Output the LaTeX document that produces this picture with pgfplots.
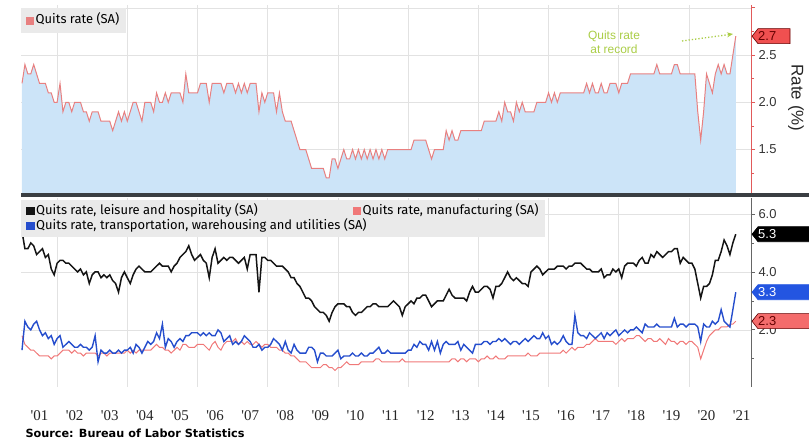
\documentclass[border=0pt]{standalone}
\usepackage{pgfplots}
\pgfplotsset{compat=1.18}
\usepackage{pgfplotstable}
\usepackage{fontspec}
\setmainfont{Liberation Sans}
\newfontfamily\yrfont{Liberation Serif}
\newfontfamily\legfont{Fira Sans}
\newfontfamily\srcfont{DejaVu Sans}
\usetikzlibrary{arrows.meta}

\definecolor{areablue}{RGB}{204,228,248}
\definecolor{quitline}{RGB}{232,128,128}
\definecolor{lhblack}{RGB}{20,20,20}
\definecolor{twblue}{RGB}{38,78,205}
\definecolor{mfred}{RGB}{240,120,120}
\definecolor{gridgray}{RGB}{226,226,226}
\definecolor{leggray}{RGB}{234,234,234}
\definecolor{sepgray}{RGB}{58,62,66}
\definecolor{axred}{RGB}{225,90,90}
\definecolor{notegreen}{RGB}{170,205,70}
\definecolor{tagred}{RGB}{240,80,80}
\definecolor{tagsalmon}{RGB}{244,108,108}
\definecolor{tagblue}{RGB}{35,85,225}
\definecolor{darkred}{RGB}{100,0,0}

% month index n: 0 = Dec 2000 ... 244 = Apr 2021
% q = total, l = leisure/hospitality, t = transport/warehousing/utilities, f = manufacturing
\pgfplotstableread{
n q l t f
0 2.2 5.4 1.3 1.8
1 2.4 4.8 2.3 1.5
2 2.3 4.8 2.1 1.4
3 2.3 5.0 2.0 1.3
4 2.4 4.9 2.2 1.3
5 2.3 4.6 2.3 1.2
6 2.2 4.7 2.0 1.1
7 2.2 4.8 1.8 1.1
8 2.2 4.5 1.9 1.1
9 2.1 4.6 1.7 1.1
10 2.1 4.1 1.8 1.0
11 2.0 3.9 1.5 1.1
12 2.0 4.3 1.7 1.1
13 2.2 4.4 1.8 1.2
14 1.9 4.4 1.4 1.3
15 2.0 4.3 1.5 1.3
16 2.0 4.3 1.6 1.3
17 1.9 4.2 1.5 1.2
18 2.0 4.1 1.4 1.3
19 2.0 4.0 1.4 1.2
20 2.0 4.1 1.5 1.2
21 1.9 3.9 1.4 1.1
22 1.9 4.0 1.4 1.2
23 1.8 3.6 1.3 1.2
24 1.9 3.9 1.4 1.2
25 1.9 4.0 1.8 1.2
26 1.9 4.0 0.9 1.1
27 1.8 3.8 1.3 1.2
28 1.8 3.9 1.2 1.2
29 1.8 3.8 1.2 1.1
30 1.8 3.9 1.3 1.2
31 1.7 3.7 1.2 1.2
32 1.8 3.6 1.2 1.2
33 1.9 3.3 1.3 1.2
34 1.8 3.8 1.2 1.2
35 1.9 4.0 1.3 1.2
36 1.8 3.8 1.3 1.3
37 1.9 3.6 1.4 1.2
38 2.0 3.9 1.2 1.3
39 2.0 4.1 1.5 1.2
40 1.9 4.2 1.4 1.3
41 1.8 4.1 1.2 1.3
42 2.0 4.0 1.4 1.3
43 2.0 4.0 1.6 1.3
44 2.0 4.0 1.5 1.3
45 1.9 4.1 1.6 1.4
46 2.1 4.2 1.9 1.5
47 2.0 4.3 1.7 1.4
48 2.0 4.2 2.2 1.4
49 2.1 4.2 1.4 1.3
50 2.0 4.2 1.7 1.3
51 2.1 4.0 1.6 1.2
52 2.1 4.2 1.4 1.3
53 2.1 4.3 1.6 1.4
54 2.1 4.5 1.7 1.3
55 2.0 4.6 1.6 1.5
56 2.3 4.7 1.8 1.5
57 2.1 4.9 1.8 1.4
58 2.1 4.6 1.9 1.4
59 2.1 4.4 1.9 1.4
60 2.1 4.5 1.9 1.5
61 2.2 4.6 1.8 1.5
62 2.2 4.4 1.9 1.5
63 2.2 4.3 1.8 1.4
64 2.0 3.8 1.9 1.3
65 2.2 4.5 1.8 1.5
66 2.2 4.8 1.8 1.6
67 2.2 4.3 2.0 1.4
68 2.2 4.4 1.9 1.3
69 2.1 4.5 1.6 1.5
70 2.2 4.4 1.7 1.6
71 2.2 4.5 1.8 1.6
72 2.2 4.5 1.5 1.6
73 2.1 4.4 1.6 1.7
74 2.2 4.3 1.5 1.5
75 2.1 4.4 1.6 1.6
76 2.2 4.5 1.8 1.5
77 2.1 4.1 1.7 1.6
78 2.2 4.6 1.6 1.5
79 2.2 4.6 1.4 1.5
80 2.2 4.6 1.4 1.6
81 1.9 3.3 1.5 1.5
82 2.1 4.5 1.3 1.4
83 2.0 4.5 1.4 1.5
84 2.1 4.4 1.4 1.5
85 2.1 4.4 1.5 1.4
86 2.1 4.3 1.7 1.4
87 1.9 4.2 1.6 1.4
88 2.1 4.2 1.5 1.3
89 1.9 4.2 1.3 1.3
90 1.8 4.1 1.6 1.2
91 1.8 4.0 1.3 1.2
92 1.8 3.8 1.2 1.1
93 1.7 3.8 1.5 1.1
94 1.6 3.6 1.3 1.0
95 1.5 3.5 1.2 0.9
96 1.5 3.3 1.2 0.9
97 1.5 3.1 1.2 0.9
98 1.4 3.1 1.4 0.8
99 1.3 3.0 1.4 0.7
100 1.3 2.8 1.3 0.7
101 1.3 2.7 0.9 0.7
102 1.3 2.6 1.2 0.7
103 1.3 2.6 1.2 0.8
104 1.2 2.5 1.1 0.8
105 1.2 2.3 1.1 0.7
106 1.4 2.6 1.1 0.7
107 1.4 2.8 1.2 0.6
108 1.3 2.9 1.3 0.7
109 1.4 2.9 1.0 0.7
110 1.5 2.9 1.1 0.8
111 1.4 2.8 1.1 0.9
112 1.4 2.8 1.1 0.8
113 1.5 2.6 1.2 0.8
114 1.4 2.5 1.1 0.8
115 1.5 2.6 1.1 0.8
116 1.4 2.6 1.2 0.9
117 1.5 2.7 1.1 0.9
118 1.4 2.8 1.1 0.9
119 1.5 2.8 1.2 0.9
120 1.4 2.9 1.2 0.9
121 1.5 2.9 1.3 1.0
122 1.4 2.8 1.4 1.0
123 1.5 2.8 1.2 0.9
124 1.4 2.8 1.2 0.9
125 1.5 2.8 1.3 0.9
126 1.5 2.9 1.2 0.9
127 1.5 3.0 1.2 0.9
128 1.5 2.9 1.2 0.9
129 1.5 2.8 1.2 0.9
130 1.5 2.5 1.2 1.0
131 1.5 2.8 1.2 0.9
132 1.5 2.9 1.3 0.9
133 1.5 3.0 1.3 0.9
134 1.6 2.9 1.5 0.9
135 1.6 3.1 1.4 0.9
136 1.6 3.1 1.6 0.9
137 1.6 3.2 1.5 0.9
138 1.6 3.2 1.5 0.9
139 1.5 3.0 1.3 0.9
140 1.4 2.8 1.6 0.9
141 1.5 2.9 1.3 0.9
142 1.5 3.0 1.6 0.9
143 1.5 3.0 1.2 0.9
144 1.5 3.0 1.5 0.9
145 1.7 3.2 1.6 0.9
146 1.6 3.4 1.5 0.9
147 1.7 3.2 1.5 1.0
148 1.6 3.1 1.5 1.0
149 1.6 3.1 1.6 0.9
150 1.7 3.1 1.3 1.0
151 1.7 3.1 1.5 1.0
152 1.7 3.0 1.4 0.9
153 1.7 3.3 1.3 1.0
154 1.7 3.5 1.2 1.0
155 1.7 3.3 1.5 1.0
156 1.7 3.3 1.5 0.9
157 1.7 3.4 1.5 1.0
158 1.8 3.5 1.6 1.0
159 1.8 3.5 1.6 1.1
160 1.8 3.4 1.5 1.0
161 1.8 3.1 1.6 1.0
162 1.8 3.5 1.6 1.1
163 1.9 3.5 1.7 1.0
164 1.8 3.6 1.6 1.0
165 2.0 3.8 1.7 1.0
166 1.9 4.0 1.6 1.1
167 1.9 3.8 1.5 1.1
168 1.8 3.7 1.6 1.1
169 2.0 3.8 1.6 1.1
170 1.9 3.7 1.5 1.1
171 2.0 3.6 1.6 1.1
172 1.9 3.6 1.7 1.1
173 1.9 3.5 1.6 1.2
174 1.9 4.0 1.7 1.1
175 1.9 4.1 1.8 1.1
176 2.0 4.2 1.7 1.1
177 2.0 4.1 1.7 1.2
178 2.0 3.9 1.9 1.2
179 2.0 4.0 1.7 1.2
180 2.1 4.1 1.8 1.2
181 2.0 4.1 1.5 1.2
182 2.1 4.1 1.6 1.2
183 2.0 4.2 1.5 1.2
184 2.1 4.2 1.6 1.2
185 2.1 4.2 1.8 1.3
186 2.1 4.1 1.6 1.2
187 2.1 4.2 1.5 1.3
188 2.1 4.2 1.5 1.4
189 2.1 4.3 2.5 1.3
190 2.1 4.3 1.9 1.4
191 2.1 4.3 1.8 1.4
192 2.1 4.2 1.8 1.4
193 2.2 4.1 1.7 1.5
194 2.1 4.1 1.9 1.5
195 2.2 4.0 1.8 1.6
196 2.1 4.0 1.7 1.7
197 2.1 4.0 1.8 1.6
198 2.2 4.1 1.9 1.6
199 2.1 3.8 1.7 1.6
200 2.1 3.9 1.9 1.6
201 2.2 3.9 1.8 1.6
202 2.2 4.1 1.9 1.6
203 2.2 4.0 2.0 1.5
204 2.1 4.1 1.8 1.6
205 2.2 3.8 1.9 1.7
206 2.2 4.2 2.0 1.6
207 2.2 4.3 1.9 1.7
208 2.3 4.3 2.0 1.7
209 2.3 4.3 2.0 1.7
210 2.3 4.2 2.1 1.8
211 2.3 4.4 2.0 1.8
212 2.3 4.5 1.9 1.7
213 2.3 4.3 2.2 1.6
214 2.3 4.3 2.1 1.7
215 2.3 4.6 2.1 1.7
216 2.3 4.5 2.1 1.6
217 2.4 4.7 2.2 1.6
218 2.3 4.6 2.1 1.7
219 2.3 4.5 2.1 1.6
220 2.3 4.6 2.1 1.5
221 2.3 4.7 2.1 1.7
222 2.3 4.7 2.1 1.6
223 2.4 4.8 2.4 1.6
224 2.4 4.8 2.1 1.5
225 2.3 4.3 2.2 1.6
226 2.3 4.5 2.2 1.6
227 2.3 4.4 2.1 1.5
228 2.3 4.3 2.2 1.6
229 2.3 4.3 2.2 1.6
230 2.3 4.1 2.2 1.5
231 1.9 3.6 2.1 1.4
232 1.6 3.1 1.6 1.0
233 1.9 3.5 2.2 1.3
234 2.3 3.5 2.1 1.6
235 2.2 3.6 2.1 1.8
236 2.1 3.9 2.3 1.9
237 2.3 4.4 2.2 2.0
238 2.4 4.4 2.3 2.0
239 2.3 4.7 2.7 2.1
240 2.4 5.1 2.3 2.1
241 2.3 4.9 2.2 2.1
242 2.3 4.6 2.1 2.2
243 2.5 5.0 2.7 2.2
244 2.7 5.3 3.3 2.3
}\quits

\newcommand\yr[1]{\textquotesingle#1}
\newcommand\valtag[6]{% anchor, fill, border, text colour, text, right end
  \begin{scope}[shift={(#1)}]
    \filldraw[fill=#2, draw=#3, line width=0.6bp] (1bp,0) -- (7bp,7.5bp) -- (#6,7.5bp) -- (#6,-7.5bp) -- (7bp,-7.5bp) -- cycle;
    \node[anchor=west, text=#4, inner sep=0pt, font=\fontsize{13}{13}\selectfont] at (7bp,0) {#5};
  \end{scope}}

\pgfplotsset{
  panel/.style={
    scale only axis, width=730bp,
    xmin=-0.34, xmax=249.2,
    axis x line*=bottom, axis y line*=right,
    x axis line style={draw=none},
    xtick={12,36,...,228}, xticklabels={},
    xtick style={draw=none},
    xmajorgrids, ymajorgrids,
    grid style={gridgray, line width=0.6bp},
    tick align=outside,
    major tick length=4bp, minor tick length=3bp,
    yticklabel style={font=\fontsize{13}{13}\selectfont, text=black!80,
      /pgf/number format/fixed, /pgf/number format/fixed zerofill,
      /pgf/number format/precision=1, /pgf/number format/assume math mode=true},
    legend image code/.code={\fill[##1] (0bp,-3.5bp) rectangle (7bp,3.5bp);},
    legend cell align=left,
  },
  panel legend/.style={
    legend style={at={(0,1)}, anchor=north west, fill=leggray, draw=none,
      font=\legfont\fontsize{13}{15}\selectfont, inner xsep=5bp,
      nodes={text height=9.5bp, text depth=3bp, inner ysep=1.25bp, inner xsep=1.5bp}},
  },
}

\begin{document}
\begin{tikzpicture}
\useasboundingbox (0,0) rectangle (809bp,439bp);

% upper panel: total quits rate
\begin{axis}[panel, panel legend,
  at={(21bp,246bp)}, anchor=south west, height=188bp,
  ymin=1.04, ymax=3.03,
  ytick={1.5,2,2.5}, minor ytick={1.25,1.75,2.25,2.75},
  extra y ticks={3}, extra y tick labels={},
  y axis line style={axred, line width=1bp},
  ytick style={axred, line width=0.8bp},
  legend style={yshift=-3bp, inner ysep=5bp},
]
\addplot[draw=none, fill=areablue, forget plot] table[x=n, y=q]{\quits} \closedcycle;
\addplot[quitline, line width=1bp] table[x=n, y=q]{\quits};
\addlegendentry{Quits rate (SA)}
\coordinate (tagq) at (axis cs:249.2,2.7);
\end{axis}

% lower panel: by industry
\begin{axis}[panel, panel legend,
  at={(21bp,52bp)}, anchor=south west, height=189bp,
  ymin=0.03, ymax=6.55,
  ytick={2,4,6}, minor ytick={1,3,5},
  y axis line style={black!60, line width=1bp},
  ytick style={black!60, line width=0.8bp},
  extra x ticks={6,18,...,246},
  extra x tick labels={\yr{01},\yr{02},\yr{03},\yr{04},\yr{05},\yr{06},\yr{07},\yr{08},\yr{09},\yr{10},\yr{11},\yr{12},\yr{13},\yr{14},\yr{15},\yr{16},\yr{17},\yr{18},\yr{19},\yr{20},\yr{21}},
  extra x tick style={grid=none, major tick length=0pt,
    xticklabel style={font=\yrfont\fontsize{15}{15}\selectfont, text=black!85, anchor=center, yshift=-29bp}},
  legend columns=2,
  legend style={yshift=-2bp, inner ysep=3.5bp,
    /tikz/every odd column/.style={column sep=0bp},
    /tikz/every even column/.style={column sep=-15bp}},
]
\addplot[lhblack, line width=1.5bp] table[x=n, y=l]{\quits};
\addlegendentry{Quits rate, leisure and hospitality (SA)}
\addplot[mfred, line width=1bp] table[x=n, y=f]{\quits};
\addlegendentry{Quits rate, manufacturing (SA)}
\addplot[twblue, line width=1.4bp] table[x=n, y=t]{\quits};
\addlegendentry{Quits rate, transportation, warehousing and utilities (SA)}
\coordinate (tagl) at (axis cs:249.2,5.3);
\coordinate (tagt) at (axis cs:249.2,3.3);
\coordinate (tagf) at (axis cs:249.2,2.3);
\end{axis}

% separator between panels
\fill[sepgray] (21bp,242bp) rectangle (809bp,246bp);

% last-value tags
\valtag{tagq}{tagred}{darkred}{darkred}{2.7}{39bp}
\valtag{tagl}{black}{black}{white}{5.3}{60bp}
\valtag{tagt}{tagblue}{tagblue}{white}{3.3}{60bp}
\valtag{tagf}{tagsalmon}{darkred}{darkred}{2.3}{60bp}

% axis title
\node[rotate=-90, font=\fontsize{17}{17}\selectfont, text=black!85] at (796bp,341bp) {Rate (\%)};

% annotation
\node[text=notegreen, align=center, font=\fontsize{12}{14}\selectfont] at (614bp,397bp) {Quits rate\\at record};
\draw[notegreen, dotted, line width=1.3bp, -{Stealth[length=6bp,width=5bp]}] (682bp,398bp) -- (733bp,405bp);

% source
\node[anchor=west, font=\srcfont\bfseries\fontsize{11.3}{12}\selectfont] at (22bp,6bp) {Source: Bureau of Labor Statistics};
\end{tikzpicture}
\end{document}
